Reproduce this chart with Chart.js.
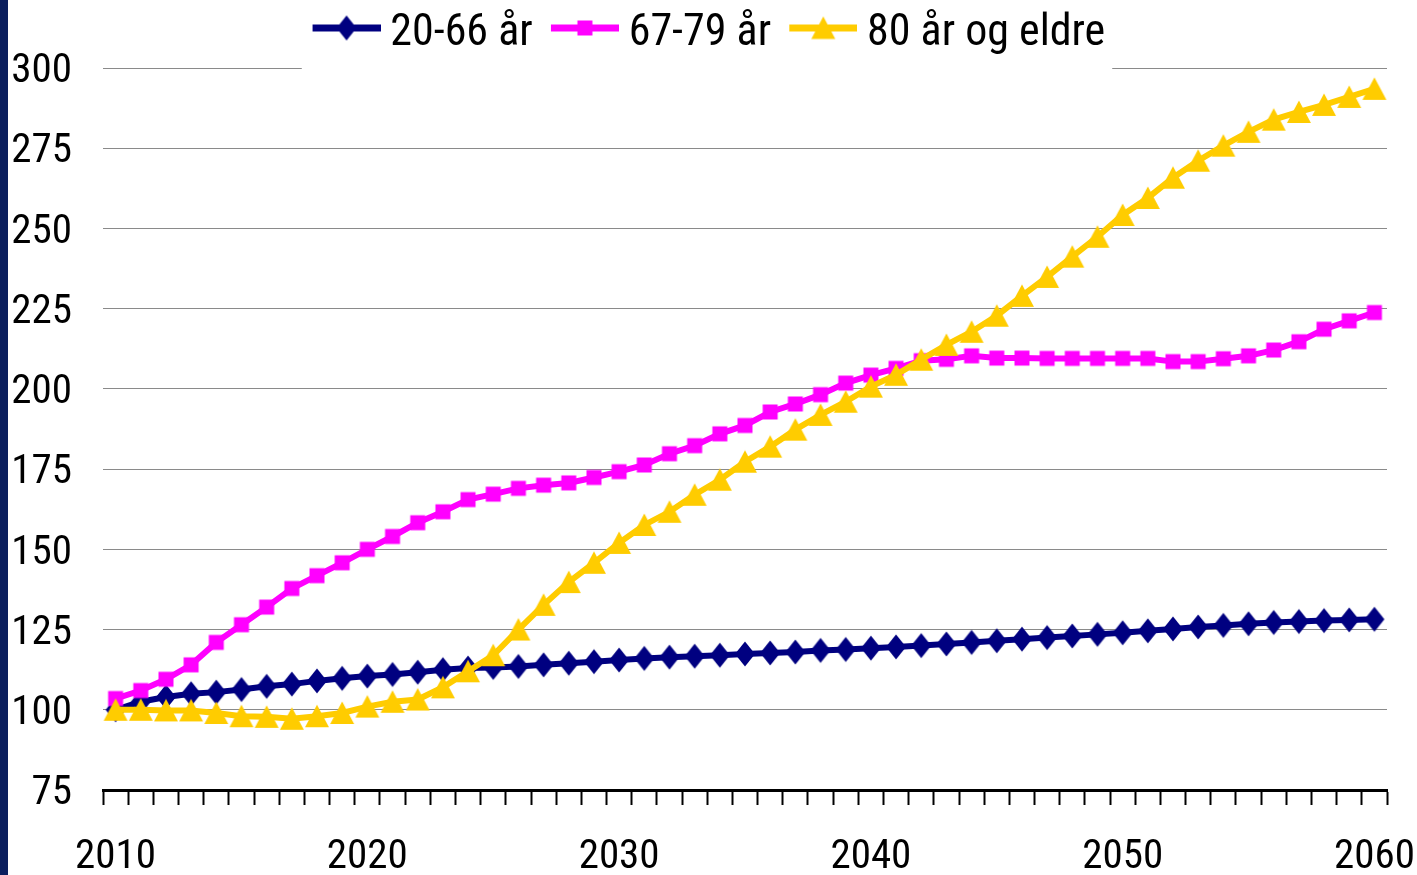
<!DOCTYPE html>
<html>
<head>
<meta charset="utf-8">
<script src="https://cdn.jsdelivr.net/npm/chart.js@4"></script>
<style>
  html, body { margin: 0; padding: 0; background: #fff; }
  #bar { position: absolute; left: 0; top: 0; width: 8px; height: 875px; background: #0b1f5e; }
  #wrap { position: absolute; left: 8px; top: 0; width: 1409px; height: 875px; }
</style>
</head>
<body>
<div id="bar"></div>
<div id="wrap"><canvas id="chart" width="1409" height="875"></canvas></div>
<script>
const years = [2010, 2011, 2012, 2013, 2014, 2015, 2016, 2017, 2018, 2019,
  2020, 2021, 2022, 2023, 2024, 2025, 2026, 2027, 2028, 2029,
  2030, 2031, 2032, 2033, 2034, 2035, 2036, 2037, 2038, 2039,
  2040, 2041, 2042, 2043, 2044, 2045, 2046, 2047, 2048, 2049,
  2050, 2051, 2052, 2053, 2054, 2055, 2056, 2057, 2058, 2059, 2060];

const age2066 = [100, 102.5, 104, 105, 105.5, 106.3, 107.3, 108, 109, 109.8,
  110.5, 111, 111.7, 112.5, 113, 113.2, 113.5, 114, 114.5, 115,
  115.5, 116, 116.4, 116.7, 117, 117.4, 117.7, 118, 118.5, 118.8,
  119.2, 119.6, 120, 120.5, 121, 121.5, 122, 122.5, 123, 123.5,
  124, 124.6, 125.2, 125.8, 126.3, 126.8, 127.2, 127.5, 127.8, 128, 128.2];

const age6779 = [103.5, 106, 109.5, 114, 121, 126.5, 132, 137.8, 141.8, 145.8,
  150, 154, 158.3, 161.7, 165.5, 167.2, 169, 170, 170.7, 172.4,
  174.2, 176.3, 179.8, 182.3, 186, 188.6, 192.8, 195.3, 198.2, 201.8,
  204.3, 206.4, 208.8, 209.2, 210.3, 209.6, 209.6, 209.5, 209.5, 209.5,
  209.5, 209.5, 208.5, 208.5, 209.4, 210.3, 212.1, 214.7, 218.6, 221.2, 223.8];

const age80 = [100, 100, 99.8, 99.8, 99, 98, 97.8, 97.2, 98, 99,
  101, 102.5, 103.2, 107, 112, 117, 125, 132.7, 139.8, 145.8,
  152, 157.6, 161.7, 167, 171.7, 177.3, 182, 187.3, 191.9, 196,
  200.7, 204.4, 209.1, 213.7, 217.8, 222.8, 229, 234.9, 241.2, 247.4,
  254.2, 259.5, 265.8, 271.1, 275.8, 280.1, 283.9, 286.3, 288.5, 291, 293.5];

const seriesNames = ['20-66 år', '67-79 år', '80 år og eldre'];
const yTicks = [75, 100, 125, 150, 175, 200, 225, 250, 275, 300];

const navy = '#000080';
const pink = '#ff00ff';
const gold = '#ffcc00';

Chart.defaults.font.family = "'Roboto Condensed', 'Liberation Sans', sans-serif";
Chart.defaults.color = '#000';

function drawMarker(g, shape, cx, cy, color) {
  g.fillStyle = color;
  g.beginPath();
  if (shape === 'diamond') {
    g.moveTo(cx, cy - 12.5); g.lineTo(cx + 10, cy); g.lineTo(cx, cy + 12.5); g.lineTo(cx - 10, cy);
  } else if (shape === 'square') {
    g.rect(cx - 7.5, cy - 7.5, 15, 15);
  } else {
    g.moveTo(cx, cy - 11.5); g.lineTo(cx + 12, cy + 11); g.lineTo(cx - 12, cy + 11);
  }
  g.closePath();
  g.fill();
}

// marker image used for the data points
function makeMarker(color, shape) {
  const c = document.createElement('canvas');
  c.width = 28;
  c.height = 28;
  drawMarker(c.getContext('2d'), shape, 14, 14, color);
  return c;
}

// legend symbol: thick line with the marker in the middle
function makeIcon(color, shape) {
  const c = document.createElement('canvas');
  c.width = 87;
  c.height = 40;
  const g = c.getContext('2d');
  g.fillStyle = color;
  g.fillRect(19, 11, 68, 7);
  drawMarker(g, shape, 53, 14.5, color);
  return c;
}

const shapes = ['diamond', 'square', 'triangle'];
const colors = [navy, pink, gold];
const markers = shapes.map((s, i) => makeMarker(colors[i], s));
const icons = shapes.map((s, i) => makeIcon(colors[i], s));

// legend tweaks: a little room under it, nudge it right, and hide the gridline behind it
const legendGap = {
  id: 'legendGap',
  beforeLayout(chart) {
    const lg = chart.legend;
    if (lg && !lg._roomAdded) {
      const fit = lg.fit.bind(lg);
      lg.fit = function () { fit(); this.height += 2.5; };
      lg._roomAdded = true;
    }
  },
  afterLayout(chart) {
    chart.legend.left += 8;
    chart.legend.right += 8;
  },
  beforeDatasetsDraw(chart) {
    const boxes = chart.legend.legendHitBoxes;
    if (!boxes || !boxes.length) return;
    const left = boxes[0].left - 4;
    const last = boxes[boxes.length - 1];
    const right = last.left + last.width + 7;
    const ctx = chart.ctx;
    ctx.save();
    ctx.fillStyle = '#fff';
    ctx.fillRect(left, chart.chartArea.top - 3, right - left, 6);
    ctx.restore();
  }
};

const ctx = document.getElementById('chart').getContext('2d');
const myChart = new Chart(ctx, {
  type: 'line',
  data: {
    labels: years,
    datasets: [{
      label: seriesNames[0],
      data: age2066,
      borderColor: navy,
      backgroundColor: navy,
      borderWidth: 6,
      pointStyle: markers[0],
      order: 2
    }, {
      label: seriesNames[1],
      data: age6779,
      borderColor: pink,
      backgroundColor: pink,
      borderWidth: 6,
      pointStyle: markers[1],
      order: 1
    }, {
      label: seriesNames[2],
      data: age80,
      borderColor: gold,
      backgroundColor: gold,
      borderWidth: 6,
      pointStyle: markers[2],
      order: 0
    }]
  },
  options: {
    responsive: false,
    animation: false,
    events: [],
    layout: { padding: { left: 0, right: 30, top: 0, bottom: 0 } },
    plugins: {
      tooltip: { enabled: false },
      legend: {
        position: 'top',
        labels: {
          font: { size: 44 },
          color: '#000',
          usePointStyle: true,
          pointStyleWidth: 62.5,
          padding: 11.5,
          sort: (a, b) => a.datasetIndex - b.datasetIndex,
          generateLabels(chart) {
            const items = Chart.defaults.plugins.legend.labels.generateLabels(chart);
            items.forEach(it => { it.pointStyle = icons[it.datasetIndex]; });
            return items;
          }
        }
      }
    },
    scales: {
      x: {
        type: 'category',
        offset: true,
        grid: {
          offset: true,
          drawOnChartArea: false,
          drawTicks: true,
          tickLength: 15,
          tickColor: '#000',
          tickWidth: 2
        },
        border: { display: true, color: '#000', width: 3 },
        ticks: {
          autoSkip: false,
          maxRotation: 0,
          minRotation: 0,
          padding: 28,
          font: { size: 41 },
          color: '#000',
          callback: (val, i) => (years[i] % 10 === 0 ? String(years[i]) : '')
        },
        afterFit: scale => {
          scale.height = 85;
          scale.paddingLeft = 0;
          scale.paddingRight = 0;
        }
      },
      y: {
        min: yTicks[0],
        max: yTicks[yTicks.length - 1],
        border: { display: false },
        grid: {
          drawTicks: false,
          lineWidth: 1,
          color: c => (c.tick && c.tick.value === 75 ? 'rgba(0,0,0,0)' : '#8a8a8a')
        },
        afterBuildTicks: scale => { scale.ticks = yTicks.map(v => ({ value: v })); },
        ticks: {
          padding: 31,
          labelOffset: 4,
          font: { size: 41 },
          color: '#000'
        },
        afterFit: scale => { scale.width = 95; }
      }
    }
  },
  plugins: [legendGap]
});
</script>
</body>
</html>
